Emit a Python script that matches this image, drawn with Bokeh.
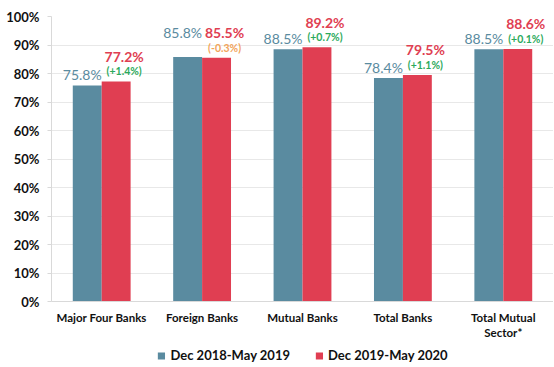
from bokeh.plotting import figure
from bokeh.layouts import column
from bokeh.models import ColumnDataSource, Range1d, FactorRange, NumeralTickFormatter, FixedTicker, Legend, LegendItem
from bokeh.transform import dodge
from bokeh.core.properties import value
from bokeh.embed import file_html
from bokeh.resources import INLINE

categories = ["Major Four Banks", "Foreign Banks", "Mutual Banks", "Total Banks", "Total Mutual\nSector*"]
series_2019 = [75.8, 85.8, 88.5, 78.4, 88.5]
series_2020 = [77.2, 85.5, 89.2, 79.5, 88.6]
changes = [1.4, -0.3, 0.7, 1.1, 0.1]
legend_labels = ["Dec 2018-May 2019", "Dec 2019-May 2020"]
y_ticks = [0, 10, 20, 30, 40, 50, 60, 70, 80, 90, 100]

BLUE = "#5A8BA0"
RED = "#E03E52"
GREEN = "#2BAA5C"
ORANGE = "#F2A45A"
FONT = "Lato"

src = ColumnDataSource(dict(
    cat=categories,
    y19=[v / 100 for v in series_2019],
    y20=[v / 100 for v in series_2020],
    lab19=[f"{v:.1f}%" for v in series_2019],
    lab20=[f"{v:.1f}%" for v in series_2020],
    chg=[f"({c:+.1f}%)" for c in changes],
    chg_col=[GREEN if c >= 0 else ORANGE for c in changes],
    off19=[-24 if c < 0 else -11 for c in changes],
))

p = figure(x_range=FactorRange(*categories, range_padding=0), y_range=Range1d(0, 1.0),
           frame_width=502, frame_height=285, output_backend="svg", toolbar_location=None,
           min_border_top=16, min_border_right=0, min_border_left=51, min_border_bottom=0)
p.outline_line_color = None
p.background_fill_color = "white"
p.border_fill_color = "white"

w = 0.288
r1 = p.vbar(x=dodge("cat", -w / 2, range=p.x_range), top="y19", width=w, source=src,
            fill_color=BLUE, line_color=None)
r2 = p.vbar(x=dodge("cat", w / 2, range=p.x_range), top="y20", width=w, source=src,
            fill_color=RED, line_color=None)

# value labels
p.text(x=dodge("cat", -w / 2, range=p.x_range), y="y19", text="lab19", source=src,
       text_color=BLUE, text_font=value(FONT), text_font_size="14px", text_font_style="normal",
       text_align="center", text_baseline="middle", x_offset=-5, y_offset="off19")
p.text(x=dodge("cat", w / 2, range=p.x_range), y="y20", text="lab20", source=src,
       text_color=RED, text_font=value(FONT), text_font_size="14px", text_font_style="bold",
       text_align="center", text_baseline="middle", x_offset=8, y_offset=-25)
p.text(x=dodge("cat", w / 2, range=p.x_range), y="y20", text="chg", source=src,
       text_color="chg_col", text_font=value(FONT), text_font_size="10.5px", text_font_style="bold",
       text_align="center", text_baseline="middle", x_offset=8, y_offset=-10)

# axes
p.yaxis.ticker = FixedTicker(ticks=[t / 100 for t in y_ticks])
p.yaxis.formatter = NumeralTickFormatter(format="0%")
p.yaxis.major_label_text_font = FONT
p.yaxis.major_label_text_font_style = "bold"
p.yaxis.major_label_text_font_size = "13px"
p.yaxis.major_label_text_color = "#111111"
p.yaxis.axis_line_color = "#D9D9D9"
p.yaxis.major_tick_line_color = "#D9D9D9"
p.yaxis.major_tick_out = 4
p.yaxis.major_tick_in = 0
p.yaxis.minor_tick_line_color = None
p.yaxis.major_label_standoff = 8

p.xaxis.major_label_text_font = FONT
p.xaxis.major_label_text_font_style = "bold"
p.xaxis.major_label_text_font_size = "11.5px"
p.xaxis.major_label_text_color = "#111111"
p.xaxis.axis_line_color = "#D9D9D9"
p.xaxis.major_tick_line_color = None
p.xaxis.major_tick_out = 0
p.xaxis.major_tick_in = 0
p.xaxis.major_label_standoff = 9

p.xgrid.grid_line_color = None
p.ygrid.grid_line_color = "#E8E8E8"

# legend in its own strip below the chart
lg = figure(width=553, height=26, output_backend="svg", toolbar_location=None,
            x_range=Range1d(0, 1), y_range=Range1d(0, 1),
            min_border=0)
lg.axis.visible = False
lg.grid.visible = False
lg.outline_line_color = None
lr1 = lg.vbar(x=[5], top=[0.5], width=0.1, fill_color=BLUE, line_color=None)
lr2 = lg.vbar(x=[5], top=[0.5], width=0.1, fill_color=RED, line_color=None)
legend = Legend(items=[LegendItem(label=legend_labels[0], renderers=[lr1]),
                       LegendItem(label=legend_labels[1], renderers=[lr2])],
                orientation="horizontal", location="center",
                label_text_font=FONT, label_text_font_style="bold", label_text_font_size="13px",
                label_text_color="#111111", glyph_width=9, glyph_height=9, spacing=24,
                border_line_color=None, background_fill_alpha=0, margin=0, padding=2,
                label_standoff=5, label_height=14)
lg.add_layout(legend, "center")

layout = column(p, lg, spacing=0)
open("out.html", "w").write(file_html(layout, INLINE))
